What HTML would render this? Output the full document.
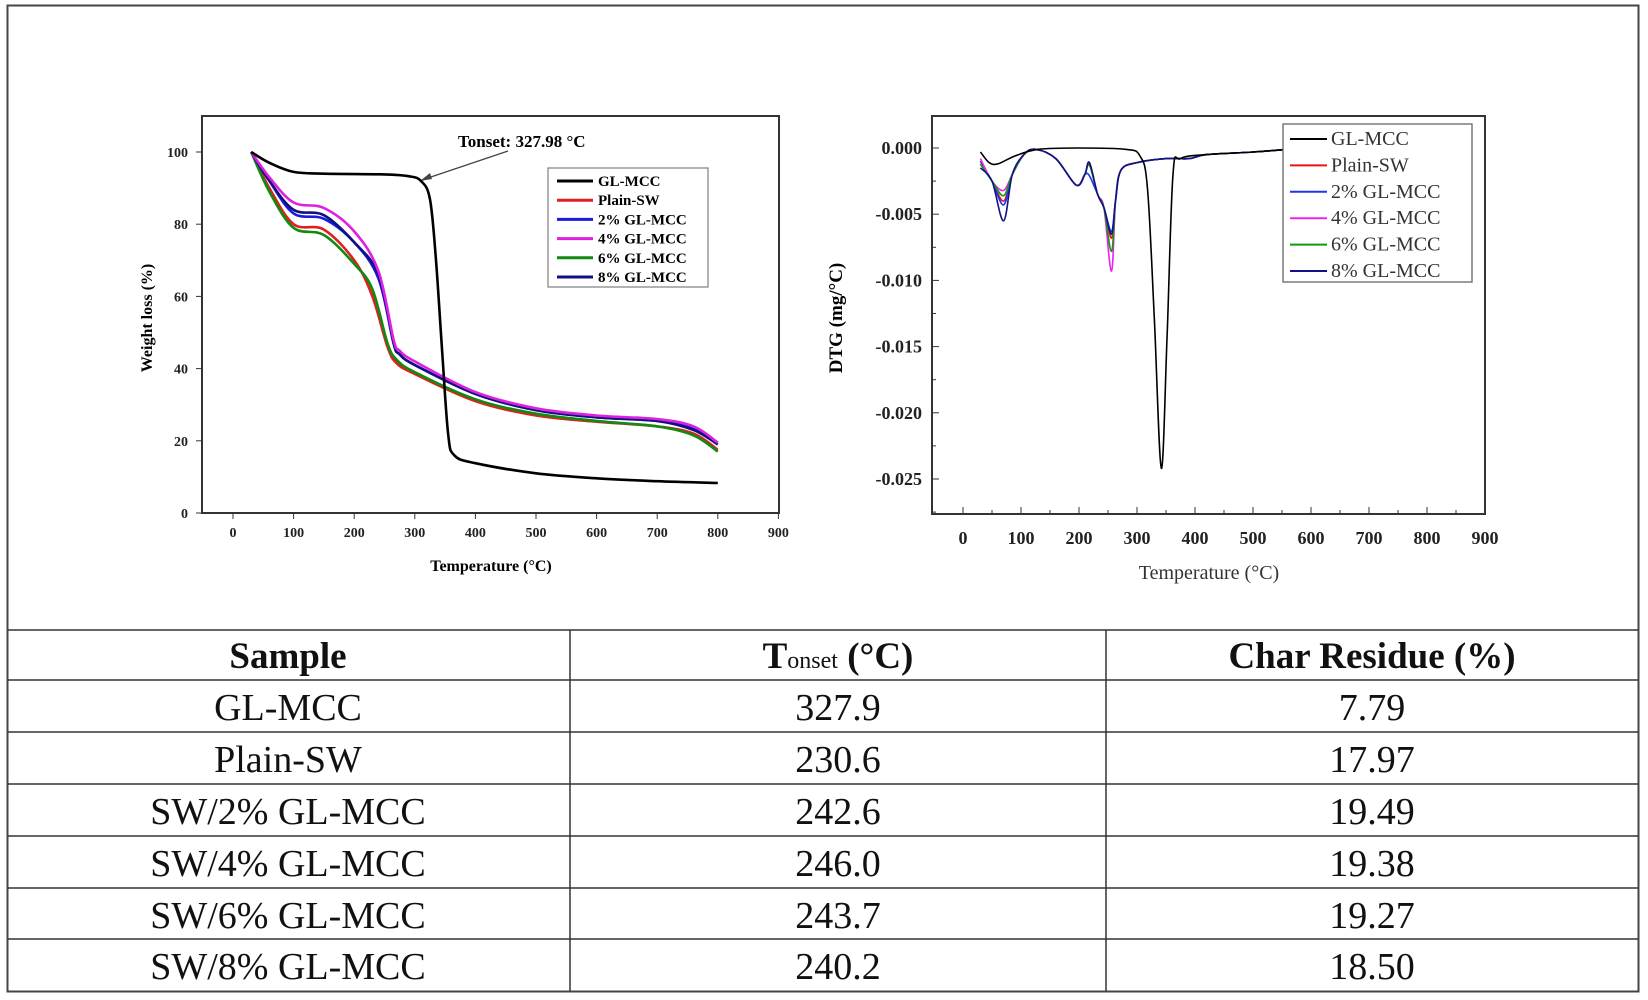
<!DOCTYPE html>
<html><head><meta charset="utf-8"><style>
body{margin:0;background:#fff;}
svg{display:block;}
</style></head><body>
<svg id="s" width="1648" height="1000" xmlns="http://www.w3.org/2000/svg" font-family="Liberation Serif, serif">
<rect x="7.5" y="5.5" width="1631" height="986" fill="none" stroke="#444" stroke-width="2"/>
<!-- Left plot -->
<rect x="202" y="116" width="577" height="397" fill="none" stroke="#333" stroke-width="2"/>
<g id="lticks" font-weight="bold" font-size="14" fill="#222"></g>
<text x="491" y="571" text-anchor="middle" font-weight="bold" font-size="16">Temperature (°C)</text>
<text transform="translate(152,318) rotate(-90)" text-anchor="middle" font-weight="bold" font-size="16">Weight loss (%)</text>
<text x="458" y="147" font-weight="bold" font-size="17">Tonset: 327.98 °C</text>
<line x1="508" y1="151" x2="422" y2="180" stroke="#444" stroke-width="1.3"/>
<polygon points="420,181 430,173 432,179" fill="#444"/>
<g id="lcurves" fill="none" stroke-width="2.6"></g>
<rect x="548" y="168" width="160" height="119" fill="#fff" stroke="#888" stroke-width="1.3"/>
<g id="lleg" font-weight="bold" font-size="15"></g>
<!-- Right plot -->
<rect x="932" y="116" width="553" height="398" fill="none" stroke="#333" stroke-width="2"/>
<g id="rticks" font-weight="bold" font-size="18" fill="#222"></g>
<text x="1209" y="579" text-anchor="middle" font-size="20" fill="#333">Temperature (°C)</text>
<text transform="translate(842,318) rotate(-90)" text-anchor="middle" font-weight="bold" font-size="19">DTG (mg/°C)</text>
<g id="rcurves" fill="none" stroke-width="1.6"></g>
<rect x="1283" y="124" width="189" height="158" fill="#fff" stroke="#666" stroke-width="1.3"/>
<g id="rleg" font-size="20" fill="#333"></g>
<!-- Table -->
<g stroke="#333" stroke-width="1.5">
<line x1="8" y1="630" x2="1638" y2="630"/>
<line x1="8" y1="680" x2="1638" y2="680"/>
<line x1="8" y1="732" x2="1638" y2="732"/>
<line x1="8" y1="784" x2="1638" y2="784"/>
<line x1="8" y1="836" x2="1638" y2="836"/>
<line x1="8" y1="888" x2="1638" y2="888"/>
<line x1="8" y1="939" x2="1638" y2="939"/>
<line x1="570" y1="630" x2="570" y2="991"/>
<line x1="1106" y1="630" x2="1106" y2="991"/>
</g>
<g text-anchor="middle" font-size="38" fill="#111">
<text x="288" y="668" font-weight="bold" font-size="37">Sample</text>
<text x="838" y="668" font-weight="bold" font-size="37">T<tspan font-weight="normal" font-size="24">onset</tspan> (°C)</text>
<text x="1372" y="668" font-weight="bold" font-size="37">Char Residue (%)</text>
<text x="288" y="720">GL-MCC</text><text x="838" y="720">327.9</text><text x="1372" y="720">7.79</text>
<text x="288" y="772">Plain-SW</text><text x="838" y="772">230.6</text><text x="1372" y="772">17.97</text>
<text x="288" y="824">SW/2% GL-MCC</text><text x="838" y="824">242.6</text><text x="1372" y="824">19.49</text>
<text x="288" y="876">SW/4% GL-MCC</text><text x="838" y="876">246.0</text><text x="1372" y="876">19.38</text>
<text x="288" y="928">SW/6% GL-MCC</text><text x="838" y="928">243.7</text><text x="1372" y="928">19.27</text>
<text x="288" y="979">SW/8% GL-MCC</text><text x="838" y="979">240.2</text><text x="1372" y="979">18.50</text>
</g>
</svg>
<script>
var NS="http://www.w3.org/2000/svg";
function el(p,t,a,txt){var e=document.createElementNS(NS,t);for(var k in a)e.setAttribute(k,a[k]);if(txt!=null)e.textContent=txt;document.getElementById(p).appendChild(e);return e;}
function path(pts){
  var d="M"+pts[0][0].toFixed(1)+","+pts[0][1].toFixed(1);
  for(var i=0;i<pts.length-1;i++){var p0=pts[i-1]||pts[i],p1=pts[i],p2=pts[i+1],p3=pts[i+2]||p2;
   var c1=[p1[0]+(p2[0]-p0[0])/6,p1[1]+(p2[1]-p0[1])/6],c2=[p2[0]-(p3[0]-p1[0])/6,p2[1]-(p3[1]-p1[1])/6];
   d+=" C"+c1[0].toFixed(1)+","+c1[1].toFixed(1)+" "+c2[0].toFixed(1)+","+c2[1].toFixed(1)+" "+p2[0].toFixed(1)+","+p2[1].toFixed(1);}
  return d;}
var LX=function(t){return 233+t*0.606},LY=function(w){return 513-w*3.61};
for(var t=0;t<=900;t+=100){el("lticks","line",{x1:LX(t),y1:513,x2:LX(t),y2:519,stroke:"#333"});el("lticks","text",{x:LX(t),y:537,"text-anchor":"middle"},t);}
for(var w=0;w<=100;w+=20){el("lticks","line",{x1:196,y1:LY(w),x2:202,y2:LY(w),stroke:"#333"});el("lticks","text",{x:188,y:LY(w)+5,"text-anchor":"end"},w);}
var L=[
["#000",[[30,100],[60,97],[100,94.5],[150,94],[250,93.8],[290,93.3],[310,92],[325,87],[335,70],[345,45],[355,22],[365,16],[400,13.8],[500,11],[600,9.6],[700,8.8],[800,8.3]]],
["#e02020",[[30,100],[60,90],[100,80],[150,78.5],[200,70],[230,60],[255,46],[270,41.5],[300,38.5],[400,31],[500,27],[600,25.3],[700,24],[760,22],[800,17.5]]],
["#1a1ae0",[[30,100],[60,92],[100,83],[150,81.5],[200,75],[240,65],[265,47],[275,44],[300,41],[400,33],[500,28.5],[600,26.5],[700,25.5],[760,23.5],[800,19.5]]],
["#e020e0",[[30,100],[60,93],[100,86],[150,84.5],[200,78],[240,67],[265,48],[275,45],[300,42],[400,33.5],[500,29],[600,27],[700,26],[760,24],[800,19.5]]],
["#108a10",[[30,100],[60,89],[100,79],[150,77],[200,69],[230,62],[255,47],[270,42.5],[300,39],[400,31.5],[500,27.5],[600,25.5],[700,24],[760,21.5],[800,17]]],
["#101080",[[30,100],[60,92],[100,84],[150,82.5],[200,75],[240,66],[265,47],[275,44],[300,41],[400,33],[500,28.5],[600,26.5],[700,25.5],[760,23],[800,19]]]];
[1,4,2,5,3,0].forEach(function(i){var c=L[i];el("lcurves","path",{d:path(c[1].map(function(p){return[LX(p[0]),LY(p[1])]})),stroke:c[0]});});
var names=["GL-MCC","Plain-SW","2% GL-MCC","4% GL-MCC","6% GL-MCC","8% GL-MCC"];
names.forEach(function(n,i){var y=181+i*19.2;el("lleg","line",{x1:557,y1:y,x2:593,y2:y,stroke:L[i][0],"stroke-width":3});el("lleg","text",{x:598,y:y+5},n);});
var RX=function(t){return 963+t*0.58},RY=function(d){return 148-d*13240};
for(var t=0;t<=900;t+=100){el("rticks","line",{x1:RX(t),y1:514,x2:RX(t),y2:507,stroke:"#333"});el("rticks","text",{x:RX(t),y:544,"text-anchor":"middle"},t);}
for(var t=50;t<=900;t+=100){el("rticks","line",{x1:RX(t),y1:514,x2:RX(t),y2:510,stroke:"#333"});}
var yl=["0.000","-0.005","-0.010","-0.015","-0.020","-0.025"];
for(var i=0;i<6;i++){var y=RY(-0.005*i);el("rticks","line",{x1:932,y1:y,x2:939,y2:y,stroke:"#333"});el("rticks","text",{x:922,y:y+6,"text-anchor":"end"},yl[i]);}
for(var i=-1;i<6;i++){var y=RY(-0.005*i-0.0025);if(y>116&&y<514)el("rticks","line",{x1:932,y1:y,x2:936,y2:y,stroke:"#333"});}
function base(d1,d2,d3){return [[30,-0.0012],[50,-0.0025],[70,d1],[85,-0.002],[105,-0.0005],[125,-0.0001],[160,-0.0008],[195,-0.0028],[210,-0.002],[218,d2],[232,-0.0035],[243,-0.0045],[256,d3],[263,-0.004],[272,-0.0017],[300,-0.0011],[350,-0.0008],[390,-0.0008],[420,-0.0005],[500,-0.0003],[560,-0.0001]];}
var R=[
["#000",[[30,-0.0003],[45,-0.0011],[60,-0.0012],[90,-0.0006],[130,-0.0001],[200,0],[280,-0.0001],[305,-0.0006],[318,-0.003],[330,-0.013],[342,-0.0242],[352,-0.014],[362,-0.002],[375,-0.0008],[420,-0.0005],[500,-0.0003],[560,-0.0001]]],
["#ee1111",base(-0.0040,-0.0011,-0.0068)],
["#2233ee",base(-0.0043,-0.0021,-0.0063)],
["#ee22ee",base(-0.0032,-0.0012,-0.0093)],
["#119911",base(-0.0036,-0.0013,-0.0078)],
["#111188",base(-0.0055,-0.0011,-0.0065)]];
R[2][1][0]=[30,-0.0010];R[3][1][0]=[30,-0.0008];R[5][1][0]=[30,-0.0015];
[1,2,3,4,5,0].forEach(function(i){var c=R[i];el("rcurves","path",{d:path(c[1].map(function(p){return[RX(p[0]),RY(p[1])]})),stroke:c[0]});});
names.forEach(function(n,i){var y=139+i*26.4;el("rleg","line",{x1:1290,y1:y,x2:1327,y2:y,stroke:R[i][0],"stroke-width":2});el("rleg","text",{x:1331,y:y+6},n);});
</script>
</body></html>
